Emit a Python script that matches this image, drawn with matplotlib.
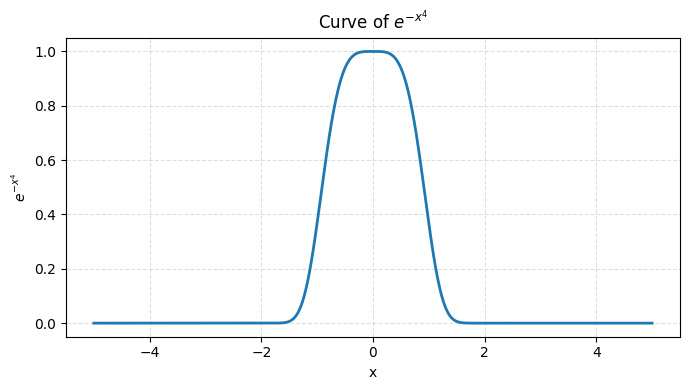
import numpy as np
import matplotlib
matplotlib.use("Agg")
import matplotlib.pyplot as plt

# Data: the plotted function e^{-x^4} sampled over [-5, 5]
x_start = -5.0
x_end = 5.0
n_points = 1000
x_values = np.linspace(x_start, x_end, n_points)
y_values = np.exp(-x_values**4)

title_text = r"Curve of $e^{-x^4}$"
xlabel_text = "x"
ylabel_text = r"$e^{-x^4}$"

fig, ax = plt.subplots(figsize=(7, 4), dpi=100)
ax.plot(x_values, y_values, color="#1f77b4", linewidth=2)
ax.set_title(title_text)
ax.set_xlabel(xlabel_text)
ax.set_ylabel(ylabel_text)
ax.grid(True, linestyle="--", alpha=0.4)
fig.tight_layout()
fig.savefig("out.png", dpi=100, bbox_inches="tight")
